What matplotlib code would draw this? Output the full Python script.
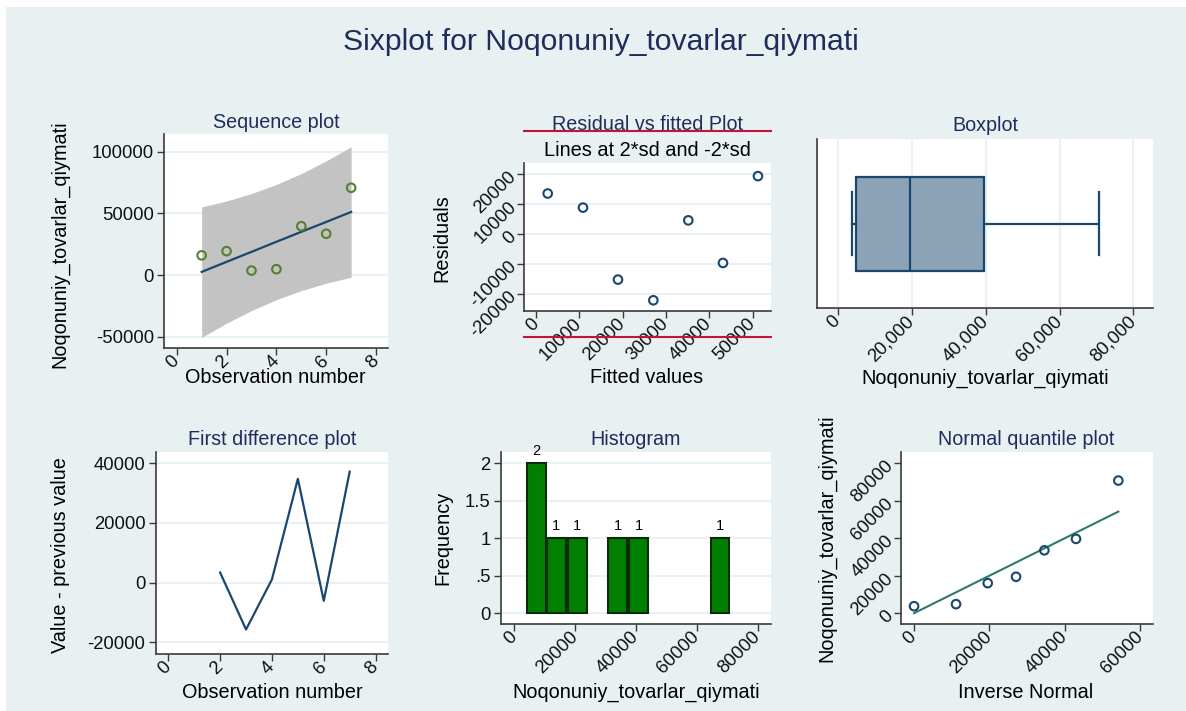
import numpy as np
import matplotlib
matplotlib.use("Agg")
import matplotlib.pyplot as plt
from matplotlib.patches import Rectangle
from matplotlib.ticker import FuncFormatter

plt.rcParams['font.family'] = ['Liberation Sans', 'DejaVu Sans']
plt.rcParams['axes.unicode_minus'] = False

# ---- data ----
obs = [1, 2, 3, 4, 5, 6, 7]
values = [16100, 19500, 3800, 4900, 39700, 33600, 70800]
fitted = [2700, 10850, 18920, 27080, 35150, 43150, 51230]
band_hi = [55300, 60100, 66100, 73500, 82300, 92600, 104000]
band_lo = [-50300, -38800, -28600, -19800, -12400, -6400, -1600]
residuals = [13600, 8900, -15100, -22000, 4650, -9550, 19400]
sd_line = 34300  # 2*sd lines (drawn outside the plot region, as in the original)

diff_obs = [2, 3, 4, 5, 6, 7]
diffs = [3400, -15700, 1100, 34800, -6100, 37200]

box_stats = dict(whislo=3800, q1=4900, med=19500, q3=39700, whishi=70800)

hist_lo = [4050, 10750, 17550, 30900, 37700, 64550]
hist_hi = [10300, 16900, 23800, 37150, 43950, 70700]
hist_count = [2, 1, 1, 1, 1, 1]

inv_normal = [90, 11220, 19620, 27130, 34640, 43030, 54250]
sorted_vals = [3800, 4900, 16100, 19500, 33600, 39700, 70800]

var = "Noqonuniy_tovarlar_qiymati"

# ---- colours ----
bg = '#E8F0F2'
navy = '#1a476f'
title_c = '#1f2d5c'
axis_c = '#3a3a3a'
grid_c = '#EAF1F3'

W, H = 1186, 711
fig = plt.figure(figsize=(W / 100, H / 100), dpi=100)
fig.patch.set_facecolor('white')
fig.patches.append(Rectangle((6 / W, 0), 1, 1 - 7 / H, transform=fig.transFigure,
                             facecolor=bg, edgecolor='none', zorder=-5))


def ftext(px, py, s, **kw):
    fig.text(px / W, 1 - py / H, s, ha=kw.pop('ha', 'center'), va=kw.pop('va', 'center'), **kw)


def make_ax(l, r, t, b):
    ax = fig.add_axes([l / W, 1 - b / H, (r - l) / W, (b - t) / H])
    ax.set_facecolor('white')
    for s in ['top', 'right']:
        ax.spines[s].set_visible(False)
    for s in ['left', 'bottom']:
        ax.spines[s].set_color(axis_c)
        ax.spines[s].set_linewidth(1.2)
    ax.tick_params(length=5, width=1, color=axis_c, labelsize=13.3, pad=2.5, labelcolor='#111111')
    return ax


def rot_x(ax):
    for lab in ax.get_xticklabels():
        lab.set_rotation(45)
        lab.set_ha('right')
        lab.set_va('center')
        lab.set_rotation_mode('anchor')


def rot_y(ax):
    for lab in ax.get_yticklabels():
        lab.set_rotation(45)
        lab.set_ha('right')
        lab.set_va('center')
        lab.set_rotation_mode('anchor')


def hgrid(ax):
    ax.yaxis.grid(True, color=grid_c, linewidth=1.5)
    ax.set_axisbelow(True)


ftext(601, 42, "Sixplot for " + var, fontsize=21.7, color=title_c)

# ---- Sequence plot ----
ax1 = make_ax(164.3, 388, 134.3, 348.3)
hgrid(ax1)
ax1.fill_between(obs, band_lo, band_hi, color='#C3C3C3', linewidth=0)
ax1.plot(obs, fitted, color=navy, linewidth=1.6)
ax1.scatter(obs, values, s=38, facecolors='none', edgecolors='#55802f', linewidths=1.5, zorder=3)
ax1.set_xlim(-0.5, 8.48)
ax1.set_ylim(-59150, 114100)
ax1.set_xticks([0, 2, 4, 6, 8])
ax1.set_yticks([-50000, 0, 50000, 100000])
rot_x(ax1)
ftext(276, 122, "Sequence plot", fontsize=14.2, color=title_c)
ftext(275, 378, "Observation number", fontsize=14.3)
ftext(60, 244, var, fontsize=14.3, rotation=90)

# ---- Residual vs fitted ----
ax2 = make_ax(524, 770.7, 162.7, 311)
hgrid(ax2)
ax2.scatter(fitted, residuals, s=38, facecolors='none', edgecolors=navy, linewidths=1.5, zorder=3)
ax2.set_xlim(-2770, 54170)
ax2.set_ylim(-25570, 23870)
ax2.set_xticks([0, 10000, 20000, 30000, 40000, 50000])
ax2.set_yticks([-20000, -10000, 0, 10000, 20000])
ax2.axhline(sd_line, color='#c0143c', linewidth=1.5, clip_on=False, zorder=5)
ax2.axhline(-sd_line, color='#c0143c', linewidth=1.5, clip_on=False, zorder=5)
rot_x(ax2)
rot_y(ax2)
ftext(647, 125, "Residual vs fitted Plot", fontsize=14.2, color=title_c, zorder=-1)
ftext(647, 150, "Lines at 2*sd and -2*sd", fontsize=14.4)
ftext(647, 378, "Fitted values", fontsize=14.3)
ftext(441.7, 238, "Residuals", fontsize=14.3, rotation=90)

# ---- Boxplot ----
ax3 = make_ax(816.7, 1152.7, 139.3, 308.3)
ax3.xaxis.grid(True, color=grid_c, linewidth=1.5)
ax3.set_axisbelow(True)
ax3.bxp([box_stats], positions=[0], vert=False, widths=1.112, capwidths=0.75,
        showfliers=False, patch_artist=True,
        boxprops=dict(facecolor='#8CA2B7', edgecolor=navy, linewidth=1.6),
        medianprops=dict(color=navy, linewidth=1.6),
        whiskerprops=dict(color=navy, linewidth=1.6),
        capprops=dict(color=navy, linewidth=1.6))
ax3.set_ylim(-1, 1)
ax3.set_yticks([])
ax3.set_xlim(-5680, 85200)
ax3.set_xticks([0, 20000, 40000, 60000, 80000])
ax3.xaxis.set_major_formatter(FuncFormatter(lambda v, p: f"{int(v):,}"))
rot_x(ax3)
ftext(985, 125.7, "Boxplot", fontsize=14.2, color=title_c)
ftext(985, 378, var, fontsize=14.3)

# ---- First difference plot ----
ax4 = make_ax(155.7, 388.3, 452.3, 654.3)
hgrid(ax4)
ax4.plot(diff_obs, diffs, color=navy, linewidth=1.6)
ax4.set_xlim(-0.486, 8.49)
ax4.set_ylim(-24020, 43690)
ax4.set_xticks([0, 2, 4, 6, 8])
ax4.set_yticks([-20000, 0, 20000, 40000])
rot_x(ax4)
ftext(272, 439.3, "First difference plot", fontsize=14.2, color=title_c)
ftext(272, 692.7, "Observation number", fontsize=14.3)
ftext(60, 555, "Value - previous value", fontsize=14.3, rotation=90)

# ---- Histogram ----
ax5 = make_ax(501, 770.7, 452.3, 624)
hgrid(ax5)
lo = np.array(hist_lo)
hi = np.array(hist_hi)
ax5.bar(lo, hist_count, width=hi - lo, align='edge', color='#007f00',
        edgecolor='#0c2a0c', linewidth=1.5, zorder=2)
for x0, x1, c in zip(lo, hi, hist_count):
    ax5.annotate(str(c), ((x0 + x1) / 2, c), xytext=(0, 8.6), textcoords='offset points',
                 ha='center', va='center', fontsize=10.5)
ax5.set_xlim(-4370, 84290)
ax5.set_ylim(-0.144, 2.147)
ax5.set_xticks([0, 20000, 40000, 60000, 80000])
ax5.set_yticks([0, 0.5, 1, 1.5, 2])
ax5.set_yticklabels(["0", ".5", "1", "1.5", "2"])
rot_x(ax5)
ftext(636, 439.3, "Histogram", fontsize=14.2, color=title_c)
ftext(636, 692.7, var, fontsize=14.3)
ftext(443.3, 538, "Frequency", fontsize=14.3, rotation=90)

# ---- Normal quantile plot ----
ax6 = make_ax(901, 1152.7, 452.3, 624)
ax6.plot(inv_normal, inv_normal, color='#2f7a67', linewidth=1.5)
ax6.scatter(inv_normal, sorted_vals, s=38, facecolors='none', edgecolors=navy, linewidths=1.5, zorder=3)
ax6.set_xlim(-3370, 63360)
ax6.set_ylim(-5690, 85870)
ax6.set_xticks([0, 20000, 40000, 60000])
ax6.set_yticks([0, 20000, 40000, 60000, 80000])
rot_x(ax6)
rot_y(ax6)
ftext(1026, 439.3, "Normal quantile plot", fontsize=14.2, color=title_c)
ftext(1026, 692.7, "Inverse Normal", fontsize=14.3)
ftext(826.7, 538, var, fontsize=14.3, rotation=90)

fig.savefig("out.png", dpi=100, facecolor=fig.get_facecolor())
